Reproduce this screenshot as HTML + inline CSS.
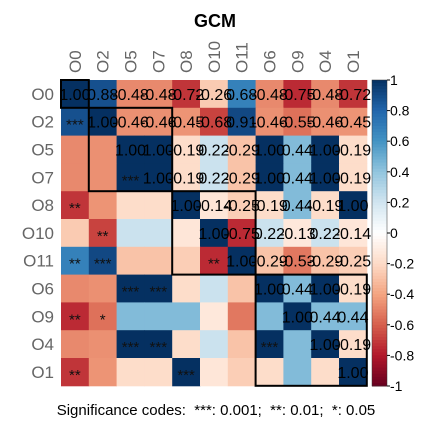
<!DOCTYPE html>
<html><head><meta charset="utf-8"><style>
body{margin:0;background:#fff;}
svg{display:block;font-family:"Liberation Sans",sans-serif;}
</style></head><body>
<svg id="chart" width="432" height="435" viewBox="0 0 432 435">
<text x="215" y="27" text-anchor="middle" font-size="18" font-weight="bold">GCM</text>
<g id="cells"></g>
<g id="labels"></g>
<g id="bar"></g>
<text x="216" y="415" text-anchor="middle" font-size="15" style="white-space:pre">Significance codes:  ***: 0.001;  **: 0.01;  *: 0.05</text>
</svg>
<script>
const vars = ["O0","O2","O5","O7","O8","O10","O11","O6","O9","O4","O1"];
const rowO0 = [1,0.88,-0.48,-0.48,-0.72,-0.26,0.68,-0.48,-0.75,-0.48,-0.72];
const rowO2 = [0.88,1,-0.46,-0.46,-0.45,-0.68,0.91,-0.46,-0.55,-0.46,-0.45];
const rowO5 = [-0.48,-0.46,1,1,-0.19,0.22,-0.29,1,0.44,1,-0.19];
const rowO7 = [-0.48,-0.46,1,1,-0.19,0.22,-0.29,1,0.44,1,-0.19];
const rowO8 = [-0.72,-0.45,-0.19,-0.19,1,-0.14,-0.25,-0.19,0.44,-0.19,1];
const rowO10 = [-0.26,-0.68,0.22,0.22,-0.14,1,-0.75,0.22,-0.13,0.22,-0.14];
const rowO11 = [0.68,0.91,-0.29,-0.29,-0.25,-0.75,1,-0.29,-0.53,-0.29,-0.25];
const rowO6 = [-0.48,-0.46,1,1,-0.19,0.22,-0.29,1,0.44,1,-0.19];
const rowO9 = [-0.75,-0.55,0.44,0.44,0.44,-0.13,-0.53,0.44,1,0.44,0.44];
const rowO4 = [-0.48,-0.46,1,1,-0.19,0.22,-0.29,1,0.44,1,-0.19];
const rowO1 = [-0.72,-0.45,-0.19,-0.19,1,-0.14,-0.25,-0.19,0.44,-0.19,1];
const matrix = [rowO0,rowO2,rowO5,rowO7,rowO8,rowO10,rowO11,rowO6,rowO9,rowO4,rowO1];
// significance stars for lower triangle: [row, col, stars]
const sigStars = [[1,0,"***"],[3,2,"***"],[4,0,"**"],[5,1,"**"],[6,0,"**"],[6,1,"***"],[6,5,"**"],
  [7,2,"***"],[7,3,"***"],[8,0,"**"],[8,1,"*"],[9,2,"***"],[9,3,"***"],[9,7,"***"],[10,0,"**"],[10,4,"***"]];
const clusterSizes = [1,3,3,4];
const barTicks = [1,0.8,0.6,0.4,0.2,0,-0.2,-0.4,-0.6,-0.8,-1];

const X0=61, Y0=80, C=27.8, N=vars.length;
const xPos = j => X0 + j*C;
const yPos = i => Y0 + i*C;
const pal = ["#67001F","#B2182B","#D6604D","#F4A582","#FDDBC7","#FFFFFF","#D1E5F0","#92C5DE","#4393C3","#2166AC","#053061"];
function hex(h){return [1,3,5].map(k=>parseInt(h.substr(k,2),16));}
function color(v){
  let t=(v+1)/2*10; let i=Math.min(9,Math.floor(t)); let f=t-i;
  const a=hex(pal[i]), b=hex(pal[i+1]);
  return "rgb("+a.map((x,k)=>Math.round(x+(b[k]-x)*f)).join(",")+")";
}
const NS="http://www.w3.org/2000/svg";
function mk(tag, attrs, parent){const e=document.createElementNS(NS,tag);for(const k in attrs)e.setAttribute(k,attrs[k]);parent.appendChild(e);return e;}
const cells=document.getElementById("cells");
for(let i=0;i<N;i++)for(let j=0;j<N;j++){
  const r=mk("rect",{x:xPos(j),y:yPos(i),width:C+0.5,height:C+0.5,fill:color(matrix[i][j])},cells);
  
  
}
for(let i=0;i<N;i++)for(let j=i;j<N;j++){
  const t=mk("text",{x:xPos(j)+C/2,y:yPos(i)+C/2+6,"text-anchor":"middle","font-size":"16",fill:"#000"},cells);
  t.textContent=matrix[i][j].toFixed(2);
  
  
}
sigStars.forEach(s=>{
  const t=mk("text",{x:xPos(s[1])+C/2,y:yPos(s[0])+C/2+8,"text-anchor":"middle","font-size":"15",fill:"#111"},cells);
  t.textContent=s[2];
  
  
});
let start=0;
clusterSizes.forEach((s,k)=>{
  const r=mk("rect",{x:xPos(start),y:yPos(start),width:s*C,height:s*C,fill:"none",stroke:"#000","stroke-width":"2"},cells);
  
  
  start+=s;
});
const lab=document.getElementById("labels");
vars.forEach((v,i)=>{
  const t=mk("text",{x:54,y:yPos(i)+C/2+6,"text-anchor":"end","font-size":"17",fill:"#666"},lab);
  t.textContent=v;
  
  
  const cx=xPos(i)+C/2+6, cy=73;
  const u=mk("text",{x:cx,y:cy,"font-size":"17",fill:"#666",transform:"rotate(-90 "+cx+" "+cy+")"},lab);
  u.textContent=v;
  
  
});
const bar=document.getElementById("bar");
const BX=372,BW=15,BT=80,BB=386, steps=100;
for(let k=0;k<steps;k++){
  const v=1-2*(k+0.5)/steps;
  const r=mk("rect",{x:BX,y:BT+(BB-BT)*k/steps,width:BW,height:(BB-BT)/steps+0.5,fill:color(v)},bar);
  
  
}
const by=v=>BT+(1-v)/2*(BB-BT);
mk("rect",{x:BX,y:BT,width:BW,height:BB-BT,fill:"none",stroke:"#333","stroke-width":"0.5"},bar);
barTicks.forEach(v=>{
  mk("line",{x1:BX+BW,x2:BX+BW+3,y1:by(v),y2:by(v),stroke:"#000"},bar);
  const t=mk("text",{x:BX+BW+3,y:by(v)+5,"font-size":"14"},bar);
  t.textContent=String(v);
  
  
});
</script>
</body></html>
